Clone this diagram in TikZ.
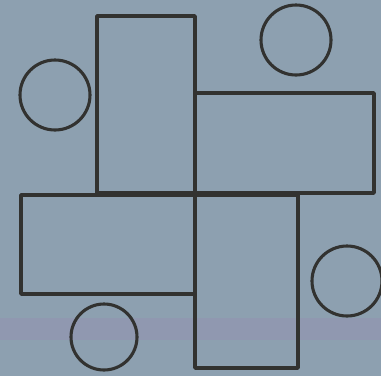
\documentclass[tikz,border=0pt]{standalone}
\usetikzlibrary{calc}
\definecolor{scanBg}{RGB}{141,160,176}
\definecolor{scanBand}{RGB}{144,152,176}
\definecolor{inkDark}{RGB}{50,50,48}
\tikzset{
  ink/.style={draw=inkDark, line width=2.6pt, line join=round, line cap=round},
  slab/.style={ink},
  ring/.style={draw=inkDark, line width=2.2pt},
}

\begin{document}
\begin{tikzpicture}[x=0.025cm, y=-0.025cm]

  % ---- Background ----------------------------------------------------------
  \fill[scanBg] (0,0) rectangle (381,376);
  \fill[scanBand] (0,318) rectangle (381,340);
  \useasboundingbox (0,0) rectangle (381,376);

  % ---- Pinwheel of four slabs ---------------------------------------------
  \draw[slab] (97,16)  rectangle (195,193);  % top
  \draw[slab] (195,93) rectangle (374,193);  % right
  \draw[slab] (21,195) rectangle (195,294);  % left
  \draw[slab] (195,195) rectangle (298,368); % bottom

  % ---- Circles in the corners ---------------------------------------------
  \draw[ring] (55,95)   circle (35);
  \draw[ring] (296,40)  circle (35);
  \draw[ring] (347,281) circle (35);
  \draw[ring] (104,337) circle (33);

\end{tikzpicture}
\end{document}
